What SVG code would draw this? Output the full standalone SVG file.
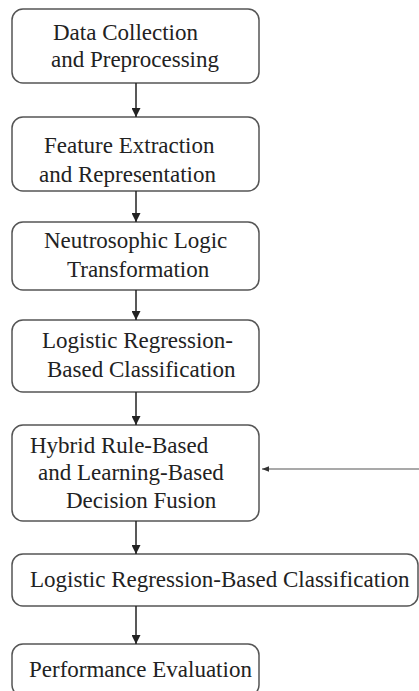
<svg xmlns="http://www.w3.org/2000/svg" width="419" height="691" viewBox="0 0 419 691">
<defs>
<marker id="ah" viewBox="0 0 10 10" refX="10" refY="5" markerWidth="9" markerHeight="9" markerUnits="userSpaceOnUse" orient="auto">
<path d="M0,0 L10,5 L0,10 Z" fill="#222"/>
</marker>
<marker id="ah2" viewBox="0 0 10 10" refX="10" refY="5" markerWidth="7" markerHeight="7" markerUnits="userSpaceOnUse" orient="auto">
<path d="M0,1 L10,5 L0,9 Z" fill="#333"/>
</marker>
</defs>
<style>
.box{fill:#fff;stroke:#555;stroke-width:1.5}
.t{font-family:"Liberation Serif","Times New Roman",serif;font-size:23px;fill:#222}
.c{stroke:#222;stroke-width:1.5;fill:none}
.f{stroke:#555;stroke-width:1.2;fill:none}
</style>
<rect width="419" height="691" fill="#fff"/>
<g id="n1"><rect class="box" x="12" y="9" width="247" height="74" rx="11"/>
<text class="t" x="53" y="40">Data Collection</text><text class="t" x="51" y="67">and Preprocessing</text></g>
<g id="n2"><rect class="box" x="12" y="117" width="247" height="74" rx="11"/>
<text class="t" x="44" y="153">Feature Extraction</text><text class="t" x="39" y="182">and Representation</text></g>
<g id="n3"><rect class="box" x="12" y="222" width="247" height="68" rx="11"/>
<text class="t" x="44" y="248">Neutrosophic Logic</text><text class="t" x="67" y="277">Transformation</text></g>
<g id="n4"><rect class="box" x="12" y="320" width="247" height="72" rx="11"/>
<text class="t" x="42" y="348">Logistic Regression-</text><text class="t" x="47" y="377">Based Classification</text></g>
<g id="n5"><rect class="box" x="12" y="425" width="247" height="96" rx="11"/>
<text class="t" x="30" y="453">Hybrid Rule-Based</text><text class="t" x="38" y="480">and Learning-Based</text><text class="t" x="66" y="508">Decision Fusion</text></g>
<g id="n6"><rect class="box" x="12" y="554" width="406" height="52" rx="11"/>
<text class="t" x="30" y="587">Logistic Regression-Based Classification</text></g>
<g id="n7"><rect class="box" x="12" y="644" width="247" height="52" rx="11"/>
<text class="t" x="29" y="677">Performance Evaluation</text></g>
<g id="connectors">
<line class="c" x1="136" y1="83" x2="136" y2="117" marker-end="url(#ah)"/>
<line class="c" x1="136" y1="191" x2="136" y2="222" marker-end="url(#ah)"/>
<line class="c" x1="136" y1="290" x2="136" y2="320" marker-end="url(#ah)"/>
<line class="c" x1="136" y1="392" x2="136" y2="425" marker-end="url(#ah)"/>
<line class="c" x1="136" y1="521" x2="136" y2="554" marker-end="url(#ah)"/>
<line class="c" x1="136" y1="606" x2="136" y2="644" marker-end="url(#ah)"/>
<line class="f" x1="419" y1="469" x2="262" y2="469" marker-end="url(#ah2)"/>
</g>
</svg>
